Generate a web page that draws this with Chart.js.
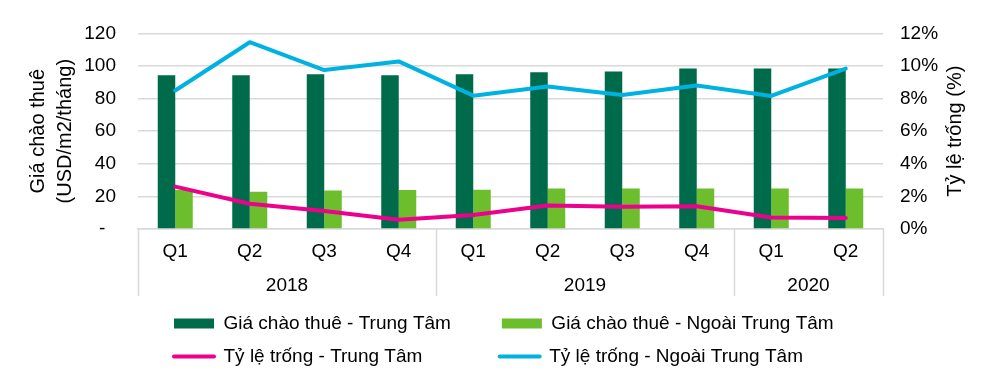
<!DOCTYPE html>
<html>
<head>
<meta charset="utf-8">
<script src="https://cdn.jsdelivr.net/npm/chart.js@4.4.1/dist/chart.umd.min.js"></script>
<style>
  html, body { margin: 0; padding: 0; background: #ffffff; }
  #c { display: block; }
</style>
</head>
<body>
<canvas id="c" width="993" height="382"></canvas>
<script>
// ---- data ----
const quarters = ['Q1', 'Q2', 'Q3', 'Q4', 'Q1', 'Q2', 'Q3', 'Q4', 'Q1', 'Q2'];
const years = ['2018', '2019', '2020'];
const yearSpans = [4, 4, 2];
const rentCenter = [94.3, 94.3, 95.0, 94.3, 94.9, 96.1, 96.7, 98.4, 98.4, 98.4];
const rentOutside = [24.0, 22.8, 23.6, 24.0, 24.1, 24.8, 24.8, 24.8, 24.8, 24.8];
const vacancyCenter = [2.6, 1.55, 1.1, 0.57, 0.86, 1.44, 1.37, 1.39, 0.70, 0.68];
const vacancyOutside = [8.5, 11.46, 9.75, 10.28, 8.18, 8.74, 8.22, 8.8, 8.16, 9.84];
const leftTicksMax = 120, leftStep = 20;
const rightTicksMax = 12, rightStep = 2;
const labelRentCenter = 'Giá chào thuê - Trung Tâm';
const labelRentOutside = 'Giá chào thuê - Ngoài Trung Tâm';
const labelVacCenter = 'Tỷ lệ trống - Trung Tâm';
const labelVacOutside = 'Tỷ lệ trống - Ngoài Trung Tâm';
const leftTitle = ['Giá chào thuê', '(USD/m2/tháng)'];
const rightTitle = 'Tỷ lệ trống (%)';

// derived positions for year labels and group separators
const yearCenters = [];
const yearBounds = [0];
let acc = 0;
yearSpans.forEach(s => { yearCenters.push(acc + s / 2); acc += s; yearBounds.push(acc); });

const FONT = "'Liberation Sans', Arial, sans-serif";
const TXT = '#000000';
const GRID = '#d9d9d9';
const FS = 19;
Chart.defaults.font.family = FONT;
Chart.defaults.font.size = FS;
Chart.defaults.color = TXT;

const separators = {
  id: 'separators',
  afterDraw(chart) {
    const x2 = chart.scales.x2;
    const ctx = chart.ctx;
    const top = chart.chartArea.bottom;
    ctx.save();
    ctx.strokeStyle = GRID;
    ctx.lineWidth = 1.5;
    yearBounds.forEach(b => {
      const px = Math.round(x2.getPixelForValue(b)) + 0.5;
      ctx.beginPath();
      ctx.moveTo(px, top);
      ctx.lineTo(px, top + 67);
      ctx.stroke();
    });
    // right axis title, reading bottom to top
    const yr = chart.scales.y1;
    ctx.fillStyle = TXT;
    ctx.font = '20px ' + FONT;
    ctx.textAlign = 'center';
    ctx.textBaseline = 'middle';
    ctx.translate(955, (yr.top + yr.bottom) / 2);
    ctx.rotate(-Math.PI / 2);
    ctx.fillText(rightTitle, 0, 0);
    ctx.restore();
  }
};

const legendShift = {
  id: 'legendShift',
  afterLayout(chart) {
    const lg = chart.legend;
    if (lg) { lg.top -= 6; lg.bottom -= 6; lg.left = 160; }
  }
};

function padTo(ctx, text, target) {
  let t = text;
  let n = 0;
  while (ctx.measureText(t + ' ').width <= target && n < 80) { t += ' '; n++; }
  return t;
}

new Chart(document.getElementById('c'), {
  data: {
    labels: quarters,
    datasets: [
      { type: 'bar', label: labelRentCenter, data: rentCenter, backgroundColor: '#006B4B', yAxisID: 'y', xAxisID: 'x', order: 1,
        categoryPercentage: 0.47, barPercentage: 1.0 },
      { type: 'bar', label: labelRentOutside, data: rentOutside, backgroundColor: '#6CBE2C', yAxisID: 'y', xAxisID: 'x', order: 1,
        categoryPercentage: 0.47, barPercentage: 1.0 },
      { type: 'line', label: labelVacCenter, data: vacancyCenter, borderColor: '#EC008C', backgroundColor: '#EC008C', borderWidth: 4,
        pointRadius: 0, tension: 0, borderCapStyle: 'round', borderJoinStyle: 'round', yAxisID: 'y1', xAxisID: 'x', order: 0 },
      { type: 'line', label: labelVacOutside, data: vacancyOutside, borderColor: '#00B2E1', backgroundColor: '#00B2E1', borderWidth: 4,
        pointRadius: 0, tension: 0, borderCapStyle: 'round', borderJoinStyle: 'round', yAxisID: 'y1', xAxisID: 'x', order: 0 }
    ]
  },
  options: {
    responsive: false,
    animation: false,
    devicePixelRatio: 1,
    layout: { padding: { top: 23, left: 0, right: 0, bottom: 0 } },
    plugins: {
      tooltip: { enabled: false },
      legend: {
        position: 'bottom',
        align: 'start',
        labels: {
          usePointStyle: true,
          pointStyleWidth: 40,
          boxHeight: 10,
          padding: 14,
          color: TXT,
          font: { size: FS, family: FONT },
          generateLabels(chart) {
            const items = Chart.defaults.plugins.legend.labels.generateLabels(chart);
            items.sort((a, b) => a.datasetIndex - b.datasetIndex);
            const ds = chart.data.datasets;
            const ctx = chart.ctx;
            ctx.save();
            ctx.font = FS + 'px ' + FONT;
            items.forEach(it => {
              const d = ds[it.datasetIndex];
              if (d.type === 'line') {
                it.pointStyle = 'line';
                it.lineWidth = 4;
                it.strokeStyle = d.borderColor;
                it.fillStyle = d.borderColor;
                it.lineCap = 'round';
              } else {
                it.pointStyle = 'rect';
                it.lineWidth = 0;
                it.fillStyle = d.backgroundColor;
                it.strokeStyle = d.backgroundColor;
              }
            });
            items[0].text = padTo(ctx, items[0].text, 265);
            items[2].text = padTo(ctx, items[2].text, 265);
            ctx.restore();
            return items;
          }
        }
      }
    },
    scales: {
      x: {
        type: 'category',
        position: 'bottom',
        offset: true,
        weight: 0,
        grid: { display: false, drawTicks: false },
        border: { display: true, color: GRID, width: 1.5 },
        ticks: { padding: 11, color: TXT, font: { size: FS }, maxRotation: 0, autoSkip: false },
        afterFit(scale) { scale.height = 36; }
      },
      x2: {
        type: 'linear',
        position: 'bottom',
        weight: 1,
        min: 0,
        max: quarters.length,
        grid: { display: false, drawTicks: false },
        border: { display: false },
        afterBuildTicks(scale) { scale.ticks = yearCenters.map(v => ({ value: v })); },
        ticks: {
          padding: 9, color: TXT, font: { size: FS }, maxRotation: 0, autoSkip: false,
          callback(v) { const i = yearCenters.indexOf(v); return i >= 0 ? years[i] : ''; }
        },
        afterFit(scale) { scale.height = 41; }
      },
      y: {
        type: 'linear',
        position: 'left',
        min: 0,
        max: leftTicksMax,
        grid: { color: GRID, lineWidth: 1.5, drawTicks: false },
        border: { display: false },
        ticks: {
          stepSize: leftStep, padding: 22, color: TXT, font: { size: FS },
          callback(v) { return v === 0 ? '-  ' : String(v); }
        },
        title: {
          display: true, text: leftTitle, color: TXT,
          font: { size: 20, lineHeight: 1.35 },
          padding: { top: 25, bottom: 0 }
        },
        afterFit(scale) { scale.width = 138; }
      },
      y1: {
        type: 'linear',
        position: 'right',
        min: 0,
        max: rightTicksMax,
        grid: { drawOnChartArea: false, drawTicks: false },
        border: { display: false },
        ticks: {
          stepSize: rightStep, padding: 17, color: TXT, font: { size: FS },
          callback(v) { return v + '%'; }
        },
        afterFit(scale) { scale.width = 110; }
      }
    }
  },
  plugins: [separators, legendShift]
});
</script>
</body>
</html>
